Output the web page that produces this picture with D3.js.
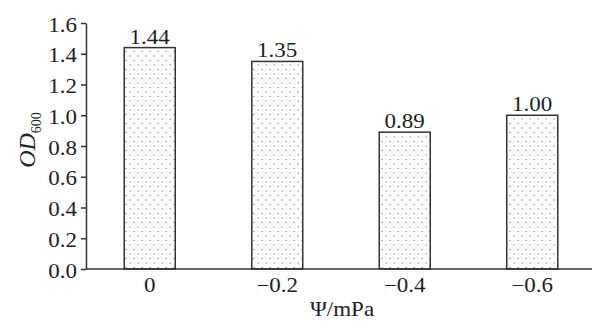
<!DOCTYPE html>
<html>
<head>
<meta charset="utf-8">
<script src="https://cdn.jsdelivr.net/npm/d3@7"></script>
<style>
  body { margin: 0; background: #fff; }
  svg { display: block; font-family: "Liberation Serif", "Times New Roman", serif; }
</style>
</head>
<body>
<div id="chart"></div>
<script>
var categories = ["0", "\u22120.2", "\u22120.4", "\u22120.6"];
var values = [1.44, 1.35, 0.89, 1.00];
var valueLabels = ["1.44", "1.35", "0.89", "1.00"];
var yTicks = [0, 0.2, 0.4, 0.6, 0.8, 1.0, 1.2, 1.4, 1.6];

var width = 593, height = 325;
var margin = {left: 86, top: 23, bottom: 56, right: 0};
var ink = "#222";
var fs = "20px";
var stretch = 1.15; // the type in the picture is set a bit wide

var svg = d3.select("#chart").append("svg")
	.attr("width", width)
	.attr("height", height);

// dotted fill for bars
var pat = svg.append("defs").append("pattern")
	.attr("id", "dots")
	.attr("patternUnits", "userSpaceOnUse")
	.attr("width", 8)
	.attr("height", 9);
pat.append("rect").attr("width", 8).attr("height", 9).attr("fill", "#fdfdfb");
pat.append("circle").attr("cx", 2).attr("cy", 2).attr("r", 0.75).attr("fill", "#959595");
pat.append("circle").attr("cx", 6).attr("cy", 6.5).attr("r", 0.75).attr("fill", "#959595");

var x = d3.scaleBand()
	.domain(categories)
	.range([margin.left, 596])
	.paddingInner(0.6)
	.paddingOuter(0.3);

var y = d3.scaleLinear()
	.domain([0, 1.6])
	.range([height - margin.bottom, margin.top]);

// bars
svg.selectAll(".bar")
	.data(values)
	.enter()
	.append("rect")
	.attr("class", "bar")
	.attr("x", function(d, i) { return x(categories[i]); })
	.attr("y", function(d) { return y(d); })
	.attr("width", x.bandwidth())
	.attr("height", function(d) { return y(0) - y(d); })
	.attr("fill", "url(#dots)")
	.attr("stroke", "#333")
	.attr("stroke-width", 1.5);

// value labels
svg.selectAll(".vlab")
	.data(values)
	.enter()
	.append("text")
	.attr("class", "vlab")
	.attr("transform", function(d, i) {
		return "translate(" + (x(categories[i]) + x.bandwidth() / 2) + "," + (y(d) - 4) + ") scale(" + stretch + ",1)";
	})
	.attr("text-anchor", "middle")
	.attr("font-size", fs)
	.attr("fill", ink)
	.text(function(d, i) { return valueLabels[i]; });

// y axis
var yAxis = svg.append("g")
	.attr("transform", "translate(" + margin.left + ",0)")
	.call(d3.axisLeft(y).tickValues(yTicks).tickFormat(d3.format(".1f")).tickSize(5).tickSizeOuter(0));
yAxis.select(".domain").attr("stroke", "#333").attr("stroke-width", 1.5);
yAxis.selectAll(".tick line").attr("stroke", "#333").attr("stroke-width", 1.5);
yAxis.selectAll(".tick text")
	.attr("x", -9 / stretch)
	.attr("dy", "0.4em")
	.attr("transform", "scale(" + stretch + ",1)")
	.attr("font-size", fs)
	.attr("font-family", "Liberation Serif, serif")
	.attr("fill", ink);

// x axis
var xAxis = svg.append("g")
	.attr("transform", "translate(0," + y(0) + ")")
	.call(d3.axisBottom(x).tickSize(0).tickPadding(9));
xAxis.select(".domain")
	.attr("d", "M" + margin.left + ",0H" + (width - 1))
	.attr("stroke", "#333").attr("stroke-width", 1.5);
xAxis.selectAll(".tick text")
	.attr("transform", "scale(" + stretch + ",1)")
	.attr("font-size", fs)
	.attr("font-family", "Liberation Serif, serif")
	.attr("fill", ink);

// axis titles
svg.append("text")
	.attr("transform", "translate(342,316) scale(" + stretch + ",1)")
	.attr("text-anchor", "middle")
	.attr("font-size", fs)
	.attr("fill", ink)
	.text("\u03a8/mPa");

var yt = svg.append("text")
	.attr("transform", "translate(35,140) rotate(-90)")
	.attr("text-anchor", "middle")
	.attr("font-size", "24px")
	.attr("fill", ink);
yt.append("tspan").attr("font-style", "italic").text("OD");
yt.append("tspan").attr("font-size", "14px").attr("dy", 6).text("600");
</script>
</body>
</html>
